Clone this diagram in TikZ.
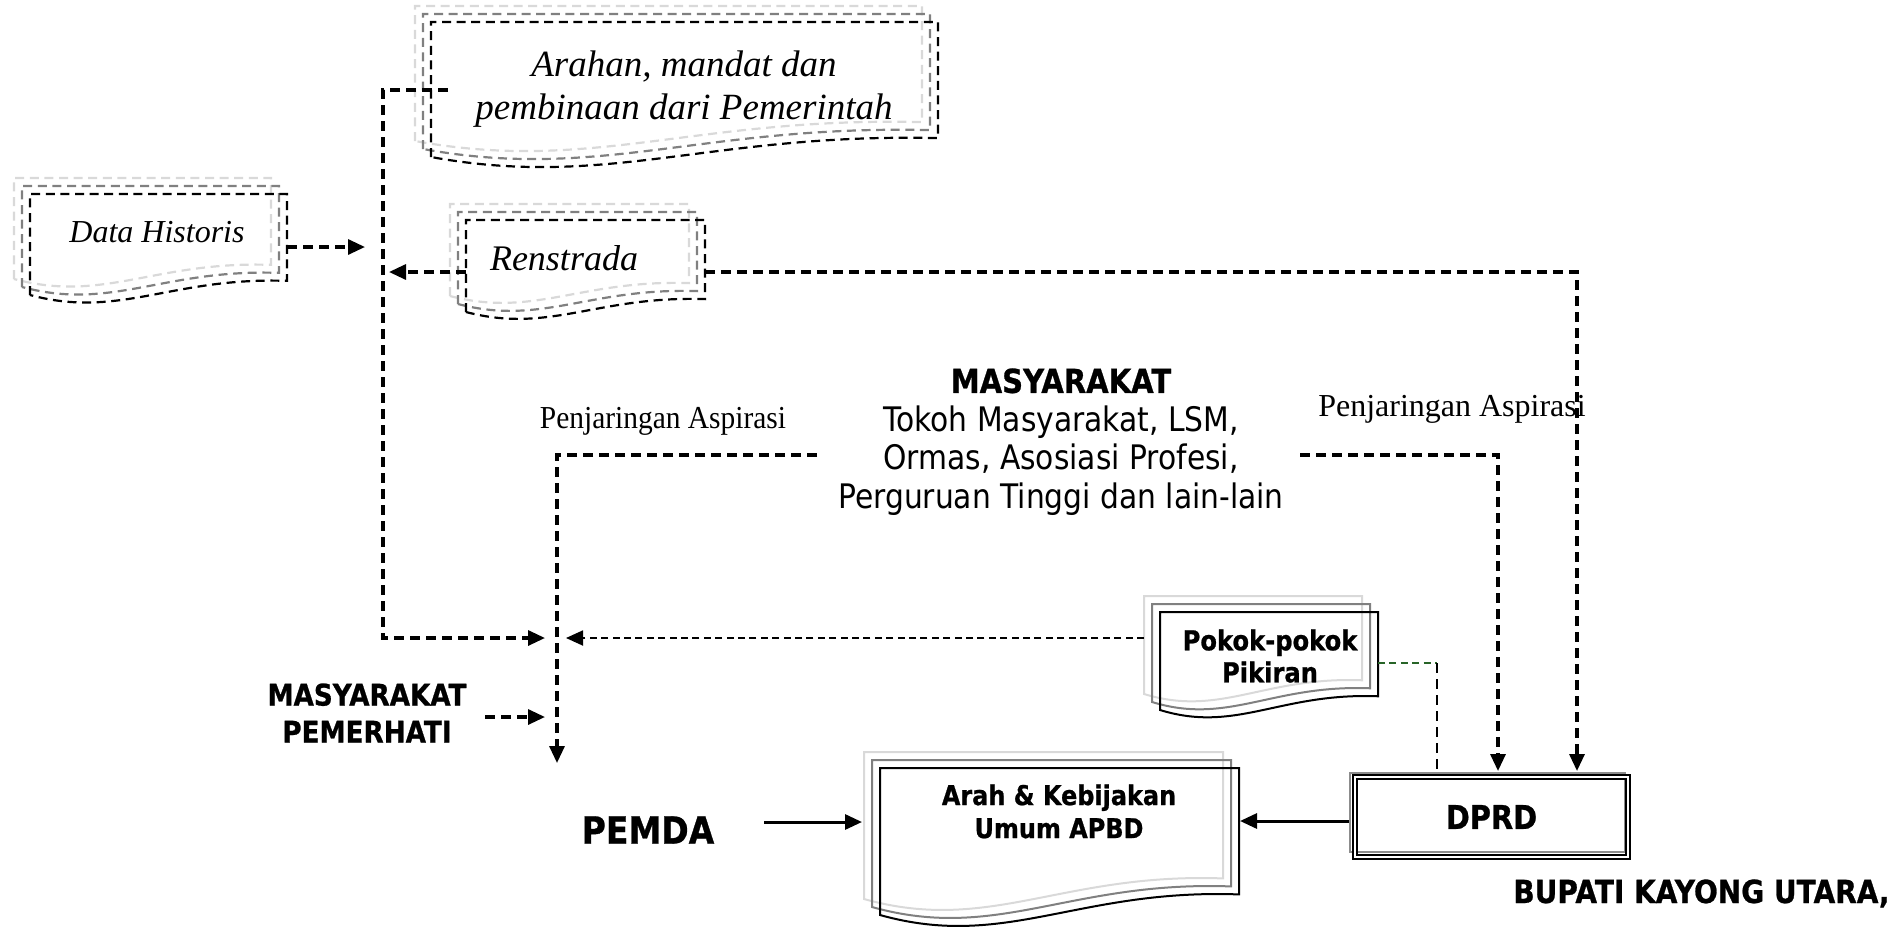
\documentclass[tikz,border=0pt]{standalone}
\usepackage{fontspec}
\setmainfont{Liberation Serif}
\setsansfont{DejaVu Sans}[FakeStretch=0.88, BoldFeatures={FakeBold=0.8}]
\newfontfamily\narrowserif{Liberation Serif}[FakeStretch=0.92]
\usetikzlibrary{arrows.meta}
\definecolor{pokgreen}{RGB}{40,100,40}

% a document shape in three layers: style, left, top, right, bottom (left side)
\newcommand{\mdoc}[5]{%
  \foreach \dd/\lc in {16/black!15,8/black!50,0/black}{
    \begin{scope}[shift={(-\dd,-\dd)}]
      \draw[#1,draw=\lc] (#2,#5) -- (#2,#3) -- (#4,#3) -- (#4,{#5-0.14*(#5-#3)})
        .. controls ({#2+0.55*(#4-#2)},{#5-0.18*(#5-#3)}) and ({#2+0.35*(#4-#2)},{#5+0.24*(#5-#3)}) .. (#2,#5) -- cycle;
    \end{scope}
  }
}

\begin{document}
\begin{tikzpicture}[x=0.5pt,y=-0.5pt,
  every node/.style={inner sep=0pt},
  dline/.style={line width=1.6pt, dash pattern=on 5pt off 3pt},
  thinline/.style={line width=0.9pt, dash pattern=on 3.5pt off 2.2pt},
  tip/.style={-{Triangle[length=8.5pt,width=7.5pt]}},
  ddoc/.style={line width=1.1pt, dash pattern=on 4.5pt off 2.8pt},
  sdoc/.style={line width=1pt},
  ittext/.style={font=\itshape\fontsize{#1}{20}\selectfont},
  boldtext/.style={font=\sffamily\bfseries\fontsize{#1}{20}\selectfont}]
\useasboundingbox (0,0) rectangle (1897,938);

% the documents
\mdoc{ddoc}{431}{22}{938}{157}
\mdoc{ddoc}{30}{194}{287}{295}
\mdoc{ddoc}{466}{220}{705}{312}
\mdoc{sdoc}{1160}{612}{1378}{710}
\mdoc{sdoc}{880}{768}{1239}{915}

% the texts
\node[anchor=north, align=center, font=\itshape\fontsize{18.5}{21.5}\selectfont] (arahan) at (684,50)
  {Arahan, mandat dan\\pembinaan dari Pemerintah};
\node[ittext=16] (historis) at (157,232) {Data Historis};
\node[ittext=18] (renstrada) at (564,258) {Renstrada};
\node[anchor=north, align=center, font=\sffamily\fontsize{16.9}{19.25}\selectfont] (masy) at (1061,368)
  {{\bfseries\fontsize{16.5}{19.25}\selectfont MASYARAKAT}\\Tokoh Masyarakat, LSM,\\Ormas, Asosiasi Profesi,\\Perguruan Tinggi dan lain-lain};
\node[font=\narrowserif\fontsize{16}{19}\selectfont] (aspL) at (663,421) {Penjaringan Aspirasi};
\node[font=\fontsize{16}{19}\selectfont] (aspR) at (1452,409) {Penjaringan Aspirasi};
\node[anchor=north, align=center, font=\sffamily\bfseries\fontsize{13.75}{16}\selectfont] (pokok) at (1270,629)
  {Pokok-pokok\\Pikiran};
\node[anchor=north, align=center, font=\sffamily\bfseries\fontsize{13.6}{16.5}\selectfont] (kebijakan) at (1059,784)
  {Arah \& Kebijakan\\Umum APBD};
\node[align=center, font=\sffamily\bfseries\fontsize{14.9}{18.5}\selectfont] (pemerhati) at (367,713)
  {MASYARAKAT\\PEMERHATI};
\node[boldtext=18.75] (pemda) at (648,830) {PEMDA};
\node[anchor=base east, boldtext=15.9] (bupati) at (1890,903) {BUPATI KAYONG UTARA,};

% DPRD box
\draw[black!45, line width=1.4pt] (1350,773) rectangle (1625,852);
\node[draw, double, line width=0.7pt, double distance=1.2pt, minimum width=136.5pt, minimum height=40pt,
  outer sep=3pt, boldtext=16.4] (dprd) at (1491.5,817) {DPRD};

% connectors
\coordinate (arahanW) at (448,90);
\coordinate (hubL) at (383,638);
\coordinate (tipA) at (545,638);
\draw[dline,tip] (arahanW) -| (hubL) -- (tipA);

\coordinate (historisE) at (287,247);
\coordinate (tipB) at (365,247);
\draw[dline,tip] (historisE) -- (tipB);

\coordinate (renW) at (466,272);
\coordinate (tipC) at (389,272);
\draw[dline,tip] (renW) -- (tipC);
\coordinate (renE) at (705,272);
\coordinate (colR) at (1577,0);
\draw[dline,tip] (renE) -| (dprd.north -| colR);

\coordinate (aspLs) at (817,455);
\coordinate (tipD) at (557,763);
\draw[dline,tip] (aspLs) -| (tipD);
\coordinate (aspRs) at (1300,455);
\coordinate (colM) at (1498,0);
\draw[dline,tip] (aspRs) -| (dprd.north -| colM);

\coordinate (pokW) at (1144,638);
\coordinate (tipE) at (566,638);
\draw[thinline,tip] (pokW) -- (tipE);
\coordinate (pokE) at (1378,663);
\coordinate (pokC) at (1437,663);
\draw[thinline,draw=pokgreen] (pokE) -- (pokC);
\draw[dline,line width=1.2pt] (pokC) -- (pokC |- dprd.north);

\coordinate (pemE) at (485,717);
\coordinate (tipF) at (545,717);
\draw[dline,tip] (pemE) -- (tipF);

\coordinate (pemdaE) at (764,822);
\coordinate (kebW) at (862,822);
\draw[line width=1.5pt,tip] (pemdaE) -- (kebW);
\coordinate (kebE) at (1240,821);
\draw[line width=1.5pt,tip] (dprd.west |- kebE) -- (kebE);
\end{tikzpicture}
\end{document}
